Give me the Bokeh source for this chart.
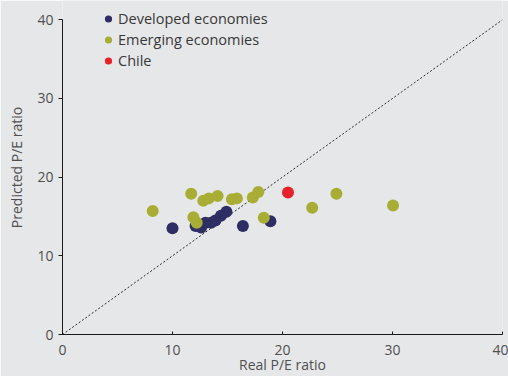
from bokeh.plotting import figure
from bokeh.models import Legend, LegendItem, FixedTicker, Range1d
from bokeh.embed import file_html
from bokeh.resources import INLINE

# Data
dev_real = [10.0, 12.1, 12.6, 13.0, 13.5, 13.9, 14.4, 14.9, 16.4, 18.9]
dev_pred = [13.5, 13.8, 13.6, 14.2, 14.2, 14.5, 15.1, 15.6, 13.8, 14.4]

emg_real = [8.2, 11.7, 11.9, 12.2, 12.8, 13.3, 14.1, 15.4, 15.85, 17.3, 17.8, 18.3, 22.7, 24.9, 30.05]
emg_pred = [15.7, 17.9, 14.9, 14.2, 17.0, 17.3, 17.6, 17.2, 17.3, 17.4, 18.1, 14.85, 16.1, 17.9, 16.4]

chile_real = [20.5]
chile_pred = [18.05]

diag = [0, 40]
ticks = [0, 10, 20, 30, 40]

labels = ["Developed economies", "Emerging economies", "Chile"]
colors = ["#2f2e64", "#a8ae35", "#e8212b"]

BG = "#e6e7e8"
FONT = "Open Sans"

# frame reaches the top edge (legend sits above the 40 tick); axis line bounded to 0..40
p = figure(width=508, height=376, output_backend="svg", toolbar_location=None,
           x_range=Range1d(0, 40), y_range=Range1d(0, 42.45),
           background_fill_color=BG, border_fill_color=BG,
           min_border_left=62, min_border_right=6, min_border_top=0, min_border_bottom=42)
p.outline_line_color = None
p.xgrid.visible = False
p.ygrid.visible = False

# diagonal 45-degree line
p.line(diag, diag, line_color="#2a2a2a", line_width=1, line_dash="2 2")

r_dev = p.scatter(dev_real, dev_pred, size=12, color=colors[0], line_color=None)
r_emg = p.scatter(emg_real, emg_pred, size=12, color=colors[1], line_color=None)
r_chi = p.scatter(chile_real, chile_pred, size=12, color=colors[2], line_color=None)

for ax in (p.xaxis[0], p.yaxis[0]):
    ax.ticker = FixedTicker(ticks=ticks)
    ax.minor_tick_line_color = None
    ax.axis_line_color = "#1a1a1a"
    ax.major_tick_line_color = "#1a1a1a"
    ax.major_label_text_font = FONT
    ax.major_label_text_font_size = "14px"
    ax.major_label_text_color = "#505050"
    ax.axis_label_text_font = FONT
    ax.axis_label_text_font_size = "14px"
    ax.axis_label_text_font_style = "normal"
    ax.axis_label_text_color = "#505050"

p.yaxis.bounds = (0, 40)
p.xaxis.axis_label = "Real P/E ratio"
p.yaxis.axis_label = "Predicted P/E ratio"
p.xaxis.major_tick_in = 3
p.xaxis.major_tick_out = 0
p.xaxis.major_label_standoff = 10
p.xaxis.axis_label_standoff = -3
p.yaxis.major_tick_in = 0
p.yaxis.major_tick_out = 4
p.yaxis.major_label_standoff = 5
p.yaxis.axis_label_standoff = 8

legend = Legend(items=[LegendItem(label=labels[0], renderers=[r_dev]),
                       LegendItem(label=labels[1], renderers=[r_emg]),
                       LegendItem(label=labels[2], renderers=[r_chi])],
                location=(37, 263), orientation="vertical",
                background_fill_alpha=0, border_line_color=None,
                padding=0, margin=0, spacing=0,
                glyph_width=18, glyph_height=21, label_height=21,
                label_standoff=1, label_text_font=FONT,
                label_text_font_size="14.5px", label_text_color="#383838")
p.add_layout(legend, "center")

open("out.html", "w").write(file_html(p, INLINE))
